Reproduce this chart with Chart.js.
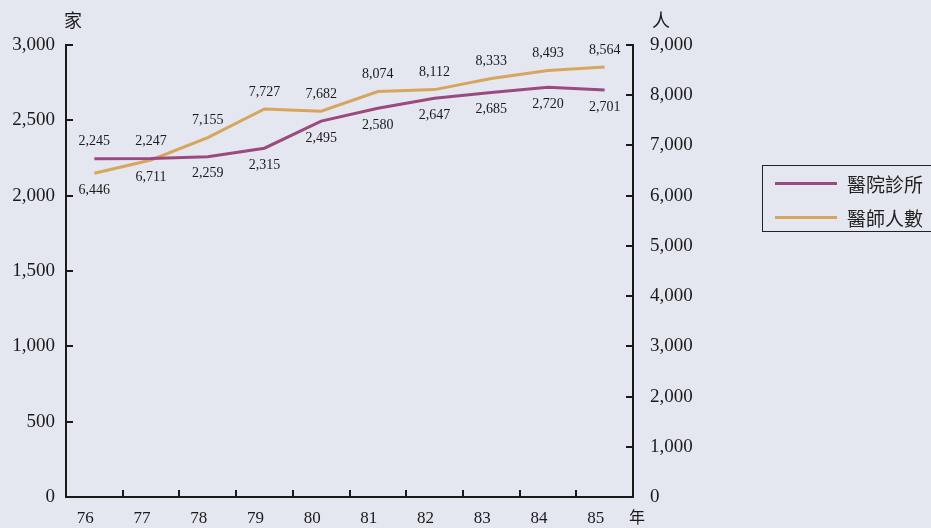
<!DOCTYPE html>
<html>
<head>
<meta charset="utf-8">
<script src="https://cdn.jsdelivr.net/npm/chart.js@4/dist/chart.umd.min.js"></script>
<style>
  html, body { margin: 0; padding: 0; background: #e4e7ef; }
  #wrap { position: relative; width: 931px; height: 528px; }
  #legend {
    position: absolute; left: 762px; top: 165px; width: 190px; height: 67px;
    border: 1px solid #222; box-sizing: border-box;
    font-family: "Noto Sans CJK TC", sans-serif; font-size: 19px; color: #222;
  }
  #legend .item { position: absolute; left: 12px; height: 24px; display: flex; align-items: center; }
  #legend .swatch { width: 62px; height: 3px; margin-right: 10px; }
</style>
</head>
<body>
<div id="wrap">
  <canvas id="chart-1" width="931" height="528"></canvas>
  <div id="legend"></div>
</div>
<script>
const years = ["76", "77", "78", "79", "80", "81", "82", "83", "84", "85"];
const clinics = [2245, 2247, 2259, 2315, 2495, 2580, 2647, 2685, 2720, 2701];
const doctors = [6446, 6711, 7155, 7727, 7682, 8074, 8112, 8333, 8493, 8564];
// where each value label sits relative to its point: 1 = above, -1 = below
const clinicLabelSide = [1, 1, -1, -1, -1, -1, -1, -1, -1, -1];
const doctorLabelSide = [-1, -1, 1, 1, 1, 1, 1, 1, 1, 1];

const serif = '"Liberation Serif", "Times New Roman", serif';
const cjk = '"Noto Sans CJK TC", sans-serif';
const ink = '#1a1a1a';

// value labels, inner tick marks and unit captions
const extras = {
  id: 'extras',
  afterDatasetsDraw(chart) {
    const c = chart.ctx;
    c.save();
    c.font = '14px ' + serif;
    c.fillStyle = ink;
    c.textAlign = 'center';
    c.textBaseline = 'middle';
    const sides = [clinicLabelSide, doctorLabelSide];
    chart.data.datasets.forEach((ds, d) => {
      chart.getDatasetMeta(d).data.forEach((pt, i) => {
        const txt = ds.data[i].toLocaleString('en-US');
        c.fillText(txt, pt.x, pt.y - sides[d][i] * 17);
      });
    });
    c.restore();
  },
  afterDraw(chart) {
    const c = chart.ctx;
    const a = chart.chartArea;
    const x = chart.scales.x, yl = chart.scales.y, yr = chart.scales.y2;
    c.save();
    c.strokeStyle = ink;
    c.lineWidth = 2;
    c.beginPath();
    yl.ticks.forEach(t => {
      const py = Math.round(yl.getPixelForValue(t.value));
      c.moveTo(a.left, py); c.lineTo(a.left + 7, py);
    });
    yr.ticks.forEach(t => {
      const py = Math.round(yr.getPixelForValue(t.value));
      c.moveTo(a.right - 7, py); c.lineTo(a.right, py);
    });
    for (let i = 1; i < years.length; i++) {
      const px = Math.round((x.getPixelForTick(i - 1) + x.getPixelForTick(i)) / 2);
      c.moveTo(px, a.bottom); c.lineTo(px, a.bottom - 7);
    }
    c.stroke();
    c.fillStyle = ink;
    c.font = '18px ' + cjk;
    c.textAlign = 'center';
    c.textBaseline = 'middle';
    c.fillText('家', 73, 20);
    c.fillText('人', 661, 20);
    c.font = '16px ' + cjk;
    c.fillText('年', 637, 517);
    c.restore();
  }
};

const ctx = document.getElementById('chart-1').getContext('2d');
const chart_1 = new Chart(ctx, {
  type: 'line',
  data: {
    labels: years,
    datasets: [
      {
        label: '醫院診所',
        data: clinics,
        yAxisID: 'y',
        borderColor: '#9b4a80',
        borderWidth: 3,
        pointRadius: 0,
        tension: 0
      },
      {
        label: '醫師人數',
        data: doctors,
        yAxisID: 'y2',
        borderColor: '#d6a55e',
        borderWidth: 3,
        pointRadius: 0,
        tension: 0
      }
    ]
  },
  options: {
    responsive: false,
    animation: false,
    layout: { padding: { top: 45 } },
    plugins: { legend: { display: false }, tooltip: { enabled: false } },
    scales: {
      x: {
        offset: true,
        grid: { display: false },
        border: { color: ink, width: 2 },
        ticks: { color: ink, font: { family: serif, size: 17 }, padding: 3, labelOffset: -9, maxRotation: 0 },
        afterFit: s => { s.height = 31; }
      },
      y: {
        position: 'left',
        min: 0, max: 3000,
        grid: { display: false },
        border: { color: ink, width: 2 },
        ticks: { stepSize: 500, color: ink, font: { family: serif, size: 19 }, padding: 3 },
        afterFit: s => { s.width = 66; }
      },
      y2: {
        position: 'right',
        min: 0, max: 9000,
        grid: { display: false },
        border: { color: ink, width: 2 },
        ticks: { stepSize: 1000, color: ink, font: { family: serif, size: 19 }, padding: 9 },
        afterFit: s => { s.width = 298; }
      }
    }
  },
  plugins: [extras]
});

// legend built from the datasets
const legend = document.getElementById('legend');
chart_1.data.datasets.forEach((ds, i) => {
  const item = document.createElement('div');
  item.className = 'item';
  item.style.top = (5 + i * 34) + 'px';
  item.innerHTML = '<span class="swatch" style="background:' + ds.borderColor + '"></span>' + ds.label;
  legend.appendChild(item);
});
</script>
</body>
</html>
